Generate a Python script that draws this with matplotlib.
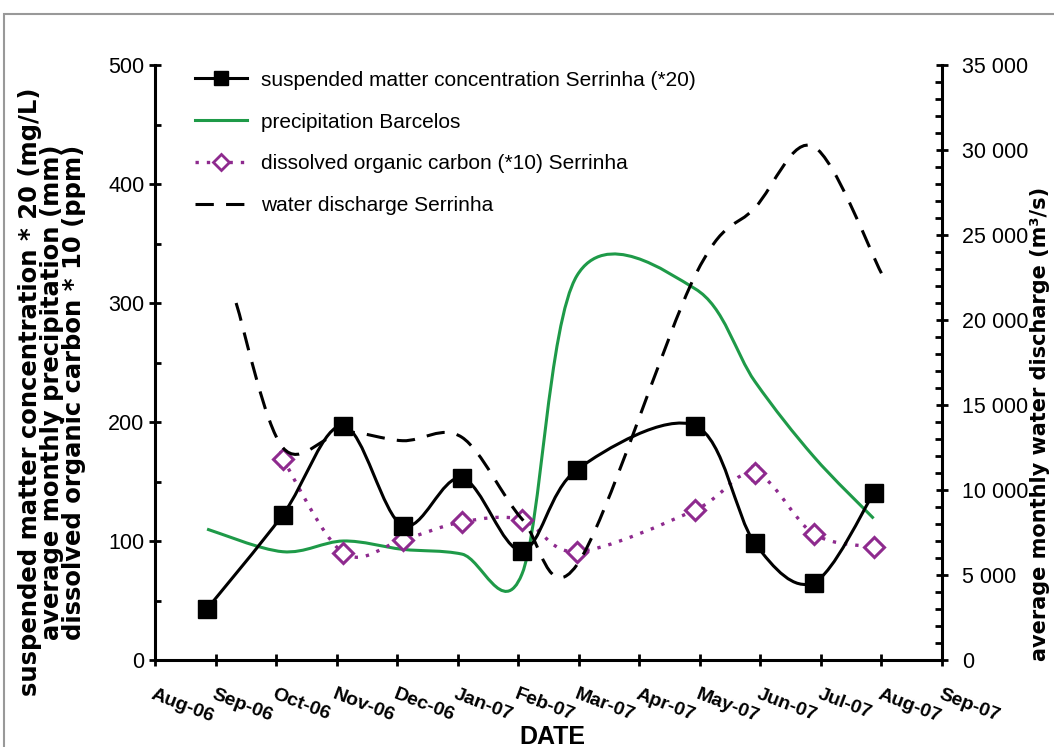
import numpy as np
import matplotlib
matplotlib.use("Agg")
import matplotlib.pyplot as plt
from matplotlib.path import Path
from matplotlib.patches import PathPatch, Rectangle
from matplotlib.lines import Line2D
from matplotlib.ticker import MultipleLocator, FuncFormatter

plt.rcParams["font.family"] = ["Liberation Sans", "DejaVu Sans"]

# month ticks (position 0 = Aug-06)
month_labels = ["Aug-06", "Sep-06", "Oct-06", "Nov-06", "Dec-06", "Jan-07", "Feb-07",
                "Mar-07", "Apr-07", "May-07", "Jun-07", "Jul-07", "Aug-07", "Sep-07"]

# sampling dates, in months after Aug-06
sample_x = [0.86, 2.11, 3.11, 4.09, 5.07, 6.06, 6.97, 8.92, 9.91, 10.88, 11.87]
suspended = [43, 122, 197, 113, 153, 92, 160, 197, 98, 65, 140]
precip = [110, 91, 100, 93, 89, 72, 323, 312, 234, 171, 119]

doc_x = [2.11, 3.11, 4.09, 5.07, 6.06, 6.97, 8.92, 9.91, 10.88, 11.87]
doc = [169, 90, 101, 116, 118, 91, 126, 157, 106, 95]
doc_err = [6, 4, 5, 5, 4, 4, 4, 6, 4, 4]

discharge_x = [1.34, 2.11, 3.11, 4.09, 5.07, 6.06, 6.97, 8.92, 9.91, 10.88, 12.0]
discharge = [21000, 12500, 13400, 12900, 13100, 8300, 5600, 22600, 26600, 30200, 22750]


def smooth_path(x, y):
    # Excel-like smoothed line: cubic Bezier through every point
    pts = np.column_stack([x, y]).astype(float)
    n = len(pts)
    verts = [pts[0]]
    codes = [Path.MOVETO]
    for i in range(n - 1):
        p0 = pts[i - 1] if i > 0 else pts[i]
        p1, p2 = pts[i], pts[i + 1]
        p3 = pts[i + 2] if i + 2 < n else pts[i + 1]
        verts += [p1 + (p2 - p0) / 6, p2 - (p3 - p1) / 6, p2]
        codes += [Path.CURVE4] * 3
    return Path(verts, codes)


W, H = 1054, 747
fig = plt.figure(figsize=(W / 100, H / 100), dpi=100)
ax = fig.add_axes([155 / W, (H - 660) / H, (942 - 155) / W, (660 - 65) / H])
ax2 = ax.twinx()

green = "#1E9A48"
purple = "#8E2A8E"

# precipitation
ax.add_patch(PathPatch(smooth_path(sample_x, precip), fill=False, ec=green, lw=2.2, zorder=3))
# DOC
ax.add_patch(PathPatch(smooth_path(doc_x, doc), fill=False, ec=purple, lw=2.4,
                       linestyle=(0, (1, 2.4)), zorder=3))
ax.errorbar(doc_x, doc, yerr=doc_err, fmt="D", ms=10, mfc="white", mec=purple, mew=2.2,
            ecolor=purple, elinewidth=1.8, capsize=3, capthick=1.8, zorder=5)
# suspended matter
ax.add_patch(PathPatch(smooth_path(sample_x, suspended), fill=False, ec="black", lw=2.2, zorder=4))
ax.plot(sample_x, suspended, "s", ms=13.5, color="black", zorder=6)
# discharge
ax2.add_patch(PathPatch(smooth_path(discharge_x, discharge), fill=False, ec="black", lw=2.2,
                        linestyle=(0, (6, 4)), zorder=3))

ax.set_xlim(0, 13)
ax.set_ylim(0, 500)
ax2.set_ylim(0, 35000)

ax.set_xticks(range(len(month_labels)))
ax.set_xticklabels(month_labels, rotation=-21, ha="left", va="top",
                   rotation_mode="anchor", fontweight="bold", fontsize=14)
ax.yaxis.set_major_locator(MultipleLocator(100))
ax.yaxis.set_minor_locator(MultipleLocator(50))
ax2.yaxis.set_major_locator(MultipleLocator(5000))
ax2.yaxis.set_minor_locator(MultipleLocator(1000))
ax2.yaxis.set_major_formatter(FuncFormatter(lambda v, p: f"{int(v):,}".replace(",", " ")))

for a in (ax, ax2):
    a.spines["top"].set_visible(False)
    for s in a.spines.values():
        s.set_linewidth(2.2)
ax.spines["right"].set_visible(False)
ax2.spines["left"].set_visible(False)
ax2.spines["bottom"].set_visible(False)

ax.tick_params(axis="x", which="major", direction="inout", length=9, width=2, pad=14)
ax.tick_params(axis="y", which="major", direction="inout", length=9, width=2,
               labelsize=15.5, pad=3)
ax.tick_params(axis="y", which="minor", direction="in", length=4, width=2)
ax2.tick_params(axis="y", which="major", direction="inout", length=9, width=2,
                labelsize=15.5, pad=10)
ax2.tick_params(axis="y", which="minor", direction="in", length=5, width=2)

handles = [
    Line2D([], [], color="black", lw=2.2, marker="s", ms=10),
    Line2D([], [], color=green, lw=2.2),
    Line2D([], [], color=purple, lw=2.4, ls=(0, (1, 2.4)), marker="D", ms=8,
           mfc="white", mec=purple, mew=2),
    Line2D([], [], color="black", lw=2.2, ls=(0, (6, 4))),
]
labels = ["suspended matter concentration Serrinha (*20)", "precipitation Barcelos",
          "dissolved organic carbon (*10) Serrinha", "water discharge Serrinha"]
ax.legend(handles, labels, loc="upper left", bbox_to_anchor=(0.037, 1.008), frameon=False,
          fontsize=15, handlelength=2.5, handletextpad=0.7, labelspacing=1.1, borderpad=0)

fig.text(52 / W, 1 - 392 / H,
         "suspended matter concentration * 20 (mg/L)\naverage monthly precipitation (mm)\n"
         "dissolved organic carbon * 10 (ppm)",
         rotation=90, ha="center", va="center", multialignment="center",
         fontsize=17.5, fontweight="bold", family="DejaVu Sans", linespacing=0.92)
fig.text(1040 / W, 1 - 424 / H, "average monthly water discharge (m³/s)",
         rotation=90, ha="center", va="center", fontsize=15, fontweight="bold",
         family="DejaVu Sans")
fig.text(552 / W, 1 - 737 / H, "DATE", ha="center", va="center", fontsize=18,
         fontweight="bold")

fig.patches.append(Rectangle((4 / W, -0.1), 1.2, 1.1 - 14 / H, transform=fig.transFigure,
                             fill=False, ec="#999999", lw=1.5))

fig.savefig("out.png", dpi=100)
